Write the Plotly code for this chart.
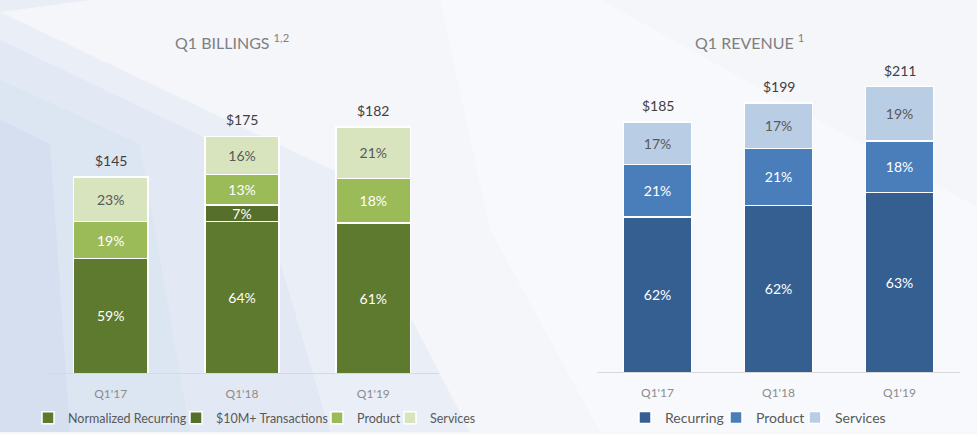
import plotly.graph_objects as go

W, H = 977, 434

# data
quarters = ["Q1'17", "Q1'18", "Q1'19"]

billing_totals = [145, 175, 182]
billing_recurring_pct = [59, 64, 61]
billing_10m_pct = [0, 7, 0]
billing_product_pct = [19, 13, 18]
billing_services_pct = [23, 16, 21]

revenue_totals = [185, 199, 211]
revenue_recurring_pct = [62, 62, 63]
revenue_product_pct = [21, 21, 18]
revenue_services_pct = [17, 17, 19]

FONT = "Lato"
DARK_TXT = "#595959"


def px(x, y):
    return x / W, 1 - y / H


def poly(points, color, opacity=1.0):
    pts = [px(x, y) for x, y in points]
    path = "M " + " L ".join(f"{a:.4f},{b:.4f}" for a, b in pts) + " Z"
    return dict(type="path", xref="paper", yref="paper", path=path,
                fillcolor=color, opacity=opacity, line=dict(width=0), layer="below")


def seg(totals, pcts, all_pcts):
    # rounded shares don't always add to 100, so scale them onto the total
    sums = [sum(col) for col in zip(*all_pcts)]
    return [t * p / s for t, p, s in zip(totals, pcts, sums)]


def labels(pcts):
    return [f"{p}%" if p else "" for p in pcts]


fig = go.Figure()
legends = {}

# (name, pct list, colour, text colour, legend square centre in px)
billing_series = [
    ("Normalized Recurring", billing_recurring_pct, "#5e7a2f", "white", 49),
    ("$10M+ Transactions", billing_10m_pct, "#566f2b", "white", 197),
    ("Product", billing_product_pct, "#9bbb59", "white", 338),
    ("Services", billing_services_pct, "#d7e4bd", DARK_TXT, 411),
]
revenue_series = [
    ("Recurring", revenue_recurring_pct, "#365f91", "white", 646),
    ("Product", revenue_product_pct, "#4a7ebb", "white", 737),
    ("Services", revenue_services_pct, "#b9cde5", DARK_TXT, 816),
]

n = 0
for series, totals, xa, ya, lsize in [(billing_series, billing_totals, "x", "y", 12.5),
                                      (revenue_series, revenue_totals, "x2", "y2", 14)]:
    all_pcts = [s[1] for s in series]
    for name, pcts, color, tcol, lx in series:
        n += 1
        key = "legend" if n == 1 else f"legend{n}"
        fig.add_trace(go.Bar(
            x=quarters, y=seg(totals, pcts, all_pcts), name=name,
            text=labels(pcts), textposition="inside", insidetextanchor="middle",
            textangle=0, constraintext="none",
            textfont=dict(family=FONT, size=14, color=tcol),
            marker=dict(color=color, line=dict(color="white", width=1.5)),
            xaxis=xa, yaxis=ya, legend=key, hoverinfo="skip",
        ))
        legends[key] = dict(orientation="h", x=(lx - 21) / W, y=1 - 420 / H,
                            xanchor="left", yanchor="middle", bgcolor="rgba(0,0,0,0)",
                            font=dict(family=FONT, size=lsize, color=DARK_TXT), itemwidth=30)

# totals above the bars
for q, t in zip(quarters, billing_totals):
    fig.add_annotation(x=q, y=t, xref="x", yref="y", text=f"${t}", showarrow=False,
                       yanchor="bottom", yshift=6, font=dict(family=FONT, size=14, color="#404040"))
for q, t in zip(quarters, revenue_totals):
    fig.add_annotation(x=q, y=t, xref="x2", yref="y2", text=f"${t}", showarrow=False,
                       yanchor="bottom", yshift=6, font=dict(family=FONT, size=14, color="#404040"))

# panel titles
fig.add_annotation(x=232 / W, y=1 - 42 / H, xref="paper", yref="paper", showarrow=False,
                   xanchor="center", yanchor="middle",
                   text="Q1 BILLINGS <sup>1,2</sup>", font=dict(family=FONT, size=16, color="#808080"))
fig.add_annotation(x=749 / W, y=1 - 42 / H, xref="paper", yref="paper", showarrow=False,
                   xanchor="center", yanchor="middle",
                   text="Q1 REVENUE <sup>1</sup>", font=dict(family=FONT, size=16, color="#808080"))

# soft slide background
shapes = [
    poly([(0, 12), (335, 172), (470, 434), (0, 434)], "#e9eef7"),
    poly([(0, 40), (250, 160), (330, 434), (0, 434)], "#e3e9f4"),
    poly([(0, 80), (140, 145), (190, 434), (0, 434)], "#dce5f2"),
    poly([(0, 120), (50, 145), (70, 434), (0, 434)], "#d5dfef"),
    poly([(0, 0), (90, 0), (0, 12)], "#e8edf6"),
    poly([(490, 70), (560, 0), (490, 0)], "#e9eef6"),
    poly([(440, 0), (600, 0), (980, 210), (980, 434), (600, 434), (490, 230)], "#f8f9fc"),
]

xax = dict(showline=True, linecolor="#d9d9d9", linewidth=1, ticks="", showgrid=False,
           tickfont=dict(family=FONT, size=12, color="#8c8c8c"), range=[-0.5, 2.5],
           ticklabelstandoff=9)
yax = dict(visible=False, range=[0, 250], showgrid=False, zeroline=False)

fig.update_layout(
    width=W, height=H, margin=dict(l=0, r=0, t=0, b=0),
    paper_bgcolor="#f4f6fa", plot_bgcolor="rgba(0,0,0,0)",
    barmode="stack", bargap=0.435,
    font=dict(family=FONT, color=DARK_TXT),
    xaxis=dict(xax, domain=[45 / W, 439 / W], anchor="y"),
    yaxis=dict(yax, domain=[1 - 375 / H, 1 - 35 / H], anchor="x"),
    xaxis2=dict(xax, domain=[597 / W, 960 / W], anchor="y2"),
    yaxis2=dict(yax, domain=[1 - 374 / H, 1 - 34 / H], anchor="x2"),
    shapes=shapes,
    showlegend=True,
    **legends,
)

fig.write_html("out.html", config={"displayModeBar": False},
               post_script="document.body.style.margin='0px';")
